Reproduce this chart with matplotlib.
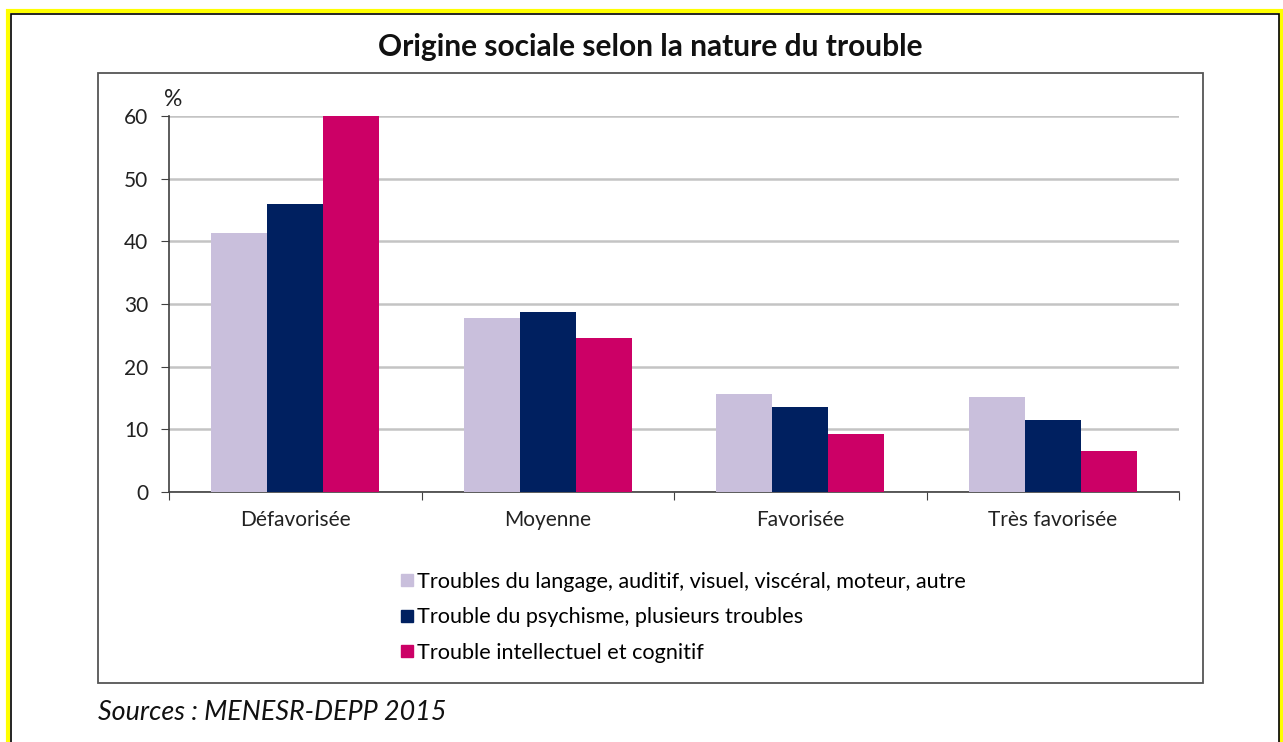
import matplotlib.pyplot as plt
from matplotlib.patches import Rectangle
from matplotlib.lines import Line2D
import numpy as np

plt.rcParams['font.family'] = ['Lato', 'DejaVu Sans']

categories = ['Défavorisée', 'Moyenne', 'Favorisée', 'Très favorisée']
series_names = ['Troubles du langage, auditif, visuel, viscéral, moteur, autre',
                'Trouble du psychisme, plusieurs troubles',
                'Trouble intellectuel et cognitif']
langage = [41.3, 27.8, 15.7, 15.2]
psychisme = [46.0, 28.8, 13.6, 11.5]
intellectuel = [60.0, 24.5, 9.2, 6.6]
colors = ['#C9BFDC', '#002060', '#CC0066']

W, H = 1283, 742
fig = plt.figure(figsize=(W / 100, H / 100), dpi=100)

def fx(px):
    return px / W

def fy(py):
    return 1 - py / H

# outer yellow frame + thin black line
fig.patches.append(Rectangle((fx(8), fy(760)), fx(1273), (760 - 11) / H,
                             transform=fig.transFigure, fill=False,
                             edgecolor='#FFFF00', linewidth=3, zorder=0))
fig.patches.append(Rectangle((fx(10.5), fy(760)), fx(1268), (760 - 13.5) / H,
                             transform=fig.transFigure, fill=False,
                             edgecolor='black', linewidth=1.2, zorder=0))
# chart box
fig.patches.append(Rectangle((fx(98), fy(683)), fx(1203 - 98), (683 - 73) / H,
                             transform=fig.transFigure, fill=False,
                             edgecolor='#555555', linewidth=1.3, zorder=0))

ax = fig.add_axes([fx(169), fy(492), fx(1179 - 169), (492 - 116) / H])

x = np.arange(len(categories))
w = 0.222
for i, (vals, name) in enumerate(zip([langage, psychisme, intellectuel], series_names)):
    ax.bar(x + (i - 1) * w, vals, width=w, color=colors[i], label=name, zorder=3)

ax.set_xlim(-0.5, 3.5)
ax.set_ylim(0, 60)
ax.set_yticks(range(0, 61, 10))
ax.yaxis.grid(True, color='#C4C4C4', linewidth=1.8, zorder=0)
ax.set_axisbelow(True)

for s in ['top', 'right']:
    ax.spines[s].set_visible(False)
ax.spines['left'].set_color('#404040')
ax.spines['bottom'].set_color('#404040')
ax.spines['left'].set_linewidth(1.2)
ax.spines['bottom'].set_linewidth(1.2)

ax.set_xticks(np.arange(-0.5, 3.6, 1))
ax.set_xticklabels([])
ax.set_xticks(x, minor=True)
ax.set_xticklabels(categories, minor=True, fontsize=15, color='#222222')
ax.tick_params(axis='x', which='major', direction='out', length=6, color='#404040')
ax.tick_params(axis='x', which='minor', length=0, pad=13)
ax.tick_params(axis='y', direction='out', length=6, color='#404040',
               labelsize=15, labelcolor='#222222', pad=9)

fig.text(fx(164), fy(100), '%', fontsize=16.5, color='#222222', va='center', ha='left')

fig.text(fx(650), fy(47), 'Origine sociale selon la nature du trouble',
         fontsize=21.5, fontweight='bold', ha='center', va='center', color='#111111')

handles = [Line2D([0], [0], marker='s', linestyle='none', markersize=9,
                  markerfacecolor=c, markeredgecolor=c) for c in colors]
fig.legend(handles, series_names, loc='upper left',
           bbox_to_anchor=(fx(390), fy(563)), frameon=False, fontsize=15.6,
           handletextpad=0.05, handlelength=0.8, labelspacing=0.72, borderaxespad=0)

fig.text(fx(98), fy(712), 'Sources : MENESR-DEPP 2015', fontsize=19.4,
         style='italic', ha='left', va='center', color='#111111')

fig.savefig('out.png', dpi=100, facecolor='white')
